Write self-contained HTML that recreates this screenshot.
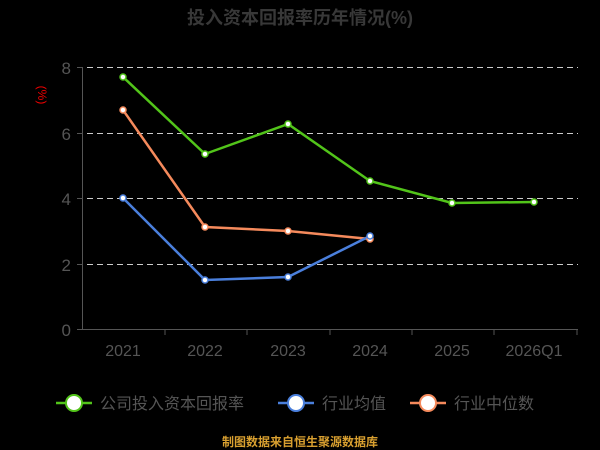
<!DOCTYPE html>
<html><head><meta charset="utf-8"><style>
html,body{margin:0;padding:0;background:#000;width:600px;height:450px;overflow:hidden}
svg{display:block}
text{font-family:"Liberation Sans","Noto Sans CJK SC",sans-serif}
</style></head><body>
<svg width="600" height="450" viewBox="0 0 600 450">
<rect width="600" height="450" fill="#000"/>
<text x="300" y="24" text-anchor="middle" font-size="18" font-weight="bold" fill="#383838">投入资本回报率历年情况(%)</text>
<text x="38" y="95" font-size="12" fill="#e00" transform="rotate(90 38 95)" text-anchor="middle">(%)</text>
<g stroke="#ccc" stroke-dasharray="6,4" stroke-width="1">
<line x1="77" y1="67.5" x2="578" y2="67.5"/>
<line x1="77" y1="133.5" x2="578" y2="133.5"/>
<line x1="77" y1="198.5" x2="578" y2="198.5"/>
<line x1="77" y1="264.5" x2="578" y2="264.5"/>
</g>
<line x1="82.5" y1="67" x2="82.5" y2="330" stroke="#555"/>
<line x1="77" y1="329.5" x2="578" y2="329.5" stroke="#555"/>
<g stroke="#555"><line x1="77" y1="67.5" x2="82" y2="67.5"/><line x1="77" y1="133.5" x2="82" y2="133.5"/><line x1="77" y1="198.5" x2="82" y2="198.5"/><line x1="77" y1="264.5" x2="82" y2="264.5"/>
<line x1="165" y1="329" x2="165" y2="335"/><line x1="247" y1="329" x2="247" y2="335"/><line x1="330" y1="329" x2="330" y2="335"/><line x1="412" y1="329" x2="412" y2="335"/><line x1="494" y1="329" x2="494" y2="335"/><line x1="577" y1="329" x2="577" y2="335"/></g>
<g font-size="17" fill="#555" text-anchor="end">
<text x="71" y="74">8</text><text x="71" y="140">6</text><text x="71" y="205">4</text><text x="71" y="271">2</text><text x="71" y="336">0</text></g>
<g font-size="16" fill="#555" text-anchor="middle">
<text x="123" y="356">2021</text><text x="205" y="356">2022</text><text x="288" y="356">2023</text><text x="370" y="356">2024</text><text x="452" y="356">2025</text><text x="534" y="356">2026Q1</text></g>
<polyline fill="none" stroke="#f58a5c" stroke-width="2.5" points="123,110 205,227 288,231 370,239"/>
<polyline fill="none" stroke="#4a7fdc" stroke-width="2.5" points="123,198 205,280 288,277 370,236"/>
<polyline fill="none" stroke="#52c41a" stroke-width="2.5" points="123,77 205,154 288,124 370,181 452,203 534,202"/>
<g fill="#fff" stroke-width="1.5">
<g stroke="#f58a5c"><circle cx="123" cy="110" r="3"/><circle cx="205" cy="227" r="3"/><circle cx="288" cy="231" r="3"/><circle cx="370" cy="239" r="3"/></g>
<g stroke="#4a7fdc"><circle cx="123" cy="198" r="3"/><circle cx="205" cy="280" r="3"/><circle cx="288" cy="277" r="3"/><circle cx="370" cy="236" r="3"/></g>
<g stroke="#52c41a"><circle cx="123" cy="77" r="3"/><circle cx="205" cy="154" r="3"/><circle cx="288" cy="124" r="3"/><circle cx="370" cy="181" r="3"/><circle cx="452" cy="203" r="3"/><circle cx="534" cy="202" r="3"/></g>
</g>
<g font-size="16" fill="#555">
<line x1="56" y1="403" x2="92" y2="403" stroke="#52c41a" stroke-width="2.5"/><circle cx="74" cy="403" r="8" fill="#fff" stroke="#52c41a" stroke-width="2"/>
<text x="100" y="409">公司投入资本回报率</text>
<line x1="278" y1="403" x2="314" y2="403" stroke="#4a7fdc" stroke-width="2.5"/><circle cx="296" cy="403" r="8" fill="#fff" stroke="#4a7fdc" stroke-width="2"/>
<text x="322" y="409">行业均值</text>
<line x1="410" y1="403" x2="446" y2="403" stroke="#f58a5c" stroke-width="2.5"/><circle cx="428" cy="403" r="8" fill="#fff" stroke="#f58a5c" stroke-width="2"/>
<text x="454" y="409">行业中位数</text>
</g>
<text x="300" y="446" text-anchor="middle" font-size="12" font-weight="bold" fill="#d9a030">制图数据来自恒生聚源数据库</text>
</svg>
</body></html>
